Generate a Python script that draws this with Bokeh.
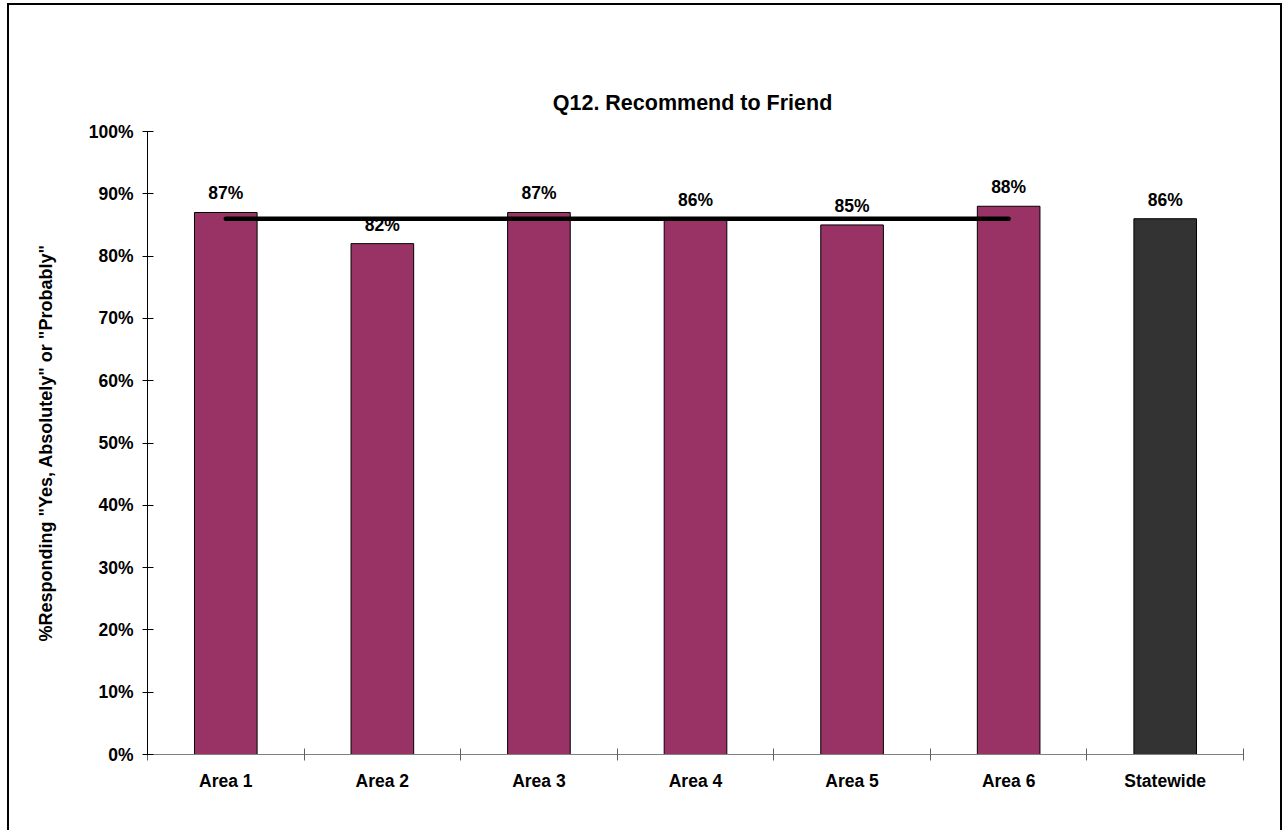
from bokeh.plotting import figure
from bokeh.models import (FactorRange, Range1d, FixedTicker, PrintfTickFormatter, LinearAxis,
                          ColumnDataSource)
from bokeh.core.properties import value
from bokeh.embed import file_html
from bokeh.resources import INLINE

# ---- data ----
categories = ["Area 1", "Area 2", "Area 3", "Area 4", "Area 5", "Area 6", "Statewide"]
percent_values = [87, 82, 87, 86, 85, 88, 86]
y_ticks = [0, 10, 20, 30, 40, 50, 60, 70, 80, 90, 100]
title_text = "Q12.  Recommend to Friend"
y_label = '%Responding "Yes, Absolutely" or "Probably"'
statewide_value = percent_values[categories.index("Statewide")]

FONT = "Liberation Sans"
AREA_COLOR = "#993366"
STATE_COLOR = "#333333"

colors = [STATE_COLOR if c == "Statewide" else AREA_COLOR for c in categories]
labels = [f"{v}%" for v in percent_values]
src = ColumnDataSource(dict(x=categories, top=percent_values, color=colors, label=labels))

p = figure(width=1271, height=825, x_range=FactorRange(*categories, range_padding=0, factor_padding=0),
           y_range=Range1d(0, 100), output_backend="svg", toolbar_location=None,
           x_axis_type=None,
           min_border_left=138, min_border_right=37, min_border_top=126, min_border_bottom=76)
p.margin = (5, 0, 0, 9)
p.styles = {"outline": "2px solid black"}
p.background_fill_color = "white"
p.border_fill_color = "white"
p.outline_line_color = None
p.grid.grid_line_color = None

# title
p.title.text = title_text
p.title.align = "center"
p.title.text_font = FONT
p.title.text_font_style = "bold"
p.title.text_font_size = "21.5px"
p.title.text_color = "black"
p.title.standoff = 33

# bars
p.vbar(x="x", top="top", width=0.4, bottom=0, source=src, fill_color="color",
       line_color="black", line_width=1)

# value labels
p.text(x="x", y="top", text="label", source=src, text_align="center", text_baseline="bottom",
       y_offset=-9, text_font=value(FONT), text_font_style="bold", text_font_size="17.5px",
       text_color="black")

# statewide reference line across areas
p.segment(x0=[categories[0]], x1=[categories[-2]], y0=[statewide_value], y1=[statewide_value],
          line_color="black", line_width=4.5, line_cap="round")

# y axis
yax = p.yaxis[0]
yax.ticker = FixedTicker(ticks=y_ticks)
yax.formatter = PrintfTickFormatter(format="%d%%")
yax.minor_tick_line_color = None
yax.major_tick_in = 6
yax.major_tick_out = 5
yax.major_label_standoff = 9
yax.axis_line_color = "black"
yax.major_tick_line_color = "black"
yax.major_label_text_font = FONT
yax.major_label_text_font_style = "bold"
yax.major_label_text_font_size = "17.5px"
yax.major_label_text_color = "black"
yax.axis_label = y_label
yax.axis_label_text_font = FONT
yax.axis_label_text_font_style = "bold"
yax.axis_label_text_font_size = "18px"
yax.axis_label_text_color = "black"
yax.axis_label_standoff = 30

# x axis: labels at category centres, tick marks at category boundaries
n = len(categories)
centers = [i + 0.5 for i in range(n)]
bounds = [float(i) for i in range(n + 1)]
xax = LinearAxis(ticker=FixedTicker(ticks=centers, minor_ticks=bounds),
                 major_label_overrides={c: name for c, name in zip(centers, categories)})
xax.major_tick_in = 0
xax.major_tick_out = 6
xax.major_tick_line_color = None
xax.minor_tick_in = 6
xax.minor_tick_out = 6
xax.minor_tick_line_color = "#606060"
xax.axis_line_color = "#808080"
xax.major_label_standoff = 10
xax.major_label_text_font = FONT
xax.major_label_text_font_style = "bold"
xax.major_label_text_font_size = "17.5px"
xax.major_label_text_color = "black"
p.add_layout(xax, "below")

open("out.html", "w").write(file_html(p, INLINE))
